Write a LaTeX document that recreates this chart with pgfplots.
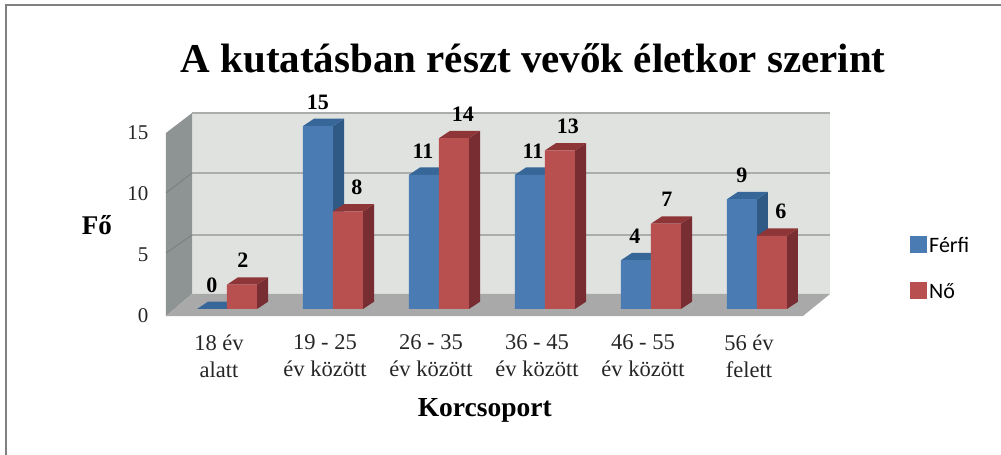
\documentclass[border=0pt]{standalone}
\usepackage{fontspec}
\setmainfont{Liberation Serif}
\newfontfamily\legendfont{Carlito}
\usepackage{pgfplots}
\usepackage{pgfplotstable}
\pgfplotsset{compat=1.18}

\definecolor{bluefront}{HTML}{4A7BB2}
\definecolor{blueside}{HTML}{2F5A85}
\definecolor{bluetop}{HTML}{376798}
\definecolor{redfront}{HTML}{B85050}
\definecolor{redside}{HTML}{772D31}
\definecolor{redtop}{HTML}{8E3537}
\definecolor{wallback}{HTML}{E0E2E0}
\definecolor{wallleft}{HTML}{8E9394}
\definecolor{floorgrey}{HTML}{A9A9A9}
\definecolor{gridgrey}{HTML}{ABADAD}

% x, value, label xshift (pt)
\pgfplotstableread{
x v lab
0 0 -15
1 15 -15
2 11 -16
3 11 -12
4 4 -16
5 9 -15
}\ferfi
\pgfplotstableread{
x v lab
0 2 16
1 8 24
2 14 24
3 13 23
4 7 16
5 6 24
}\no

% depth faces of one bar: left edge, value, side colour, top colour
\newcommand{\depth}[4]{%
  \pgfmathsetmacro{\xa}{#1}%
  \pgfmathsetmacro{\xb}{#1+0.283}%
  \pgfmathsetmacro{\xc}{#1+0.283+0.104}%
  \pgfmathsetmacro{\xd}{#1+0.104}%
  \pgfmathsetmacro{\yb}{#2+0.6}%
  \edef\tmpplot{%
    \noexpand\addplot[forget plot,fill=#3,draw=none] coordinates
      {(\xb,0) (\xc,0.6) (\xc,\yb) (\xb,#2)};
    \noexpand\addplot[forget plot,fill=#4,draw=none] coordinates
      {(\xa,#2) (\xd,\yb) (\xc,\yb) (\xb,#2)};
  }\tmpplot
}

\pgfplotsset{labelled/.style={
  ybar,
  nodes near coords,
  point meta=y,
  visualization depends on={\thisrow{lab}\as\labx},
  every node near coord/.style={anchor=center,xshift=\labx pt,yshift=24pt,
    color=black,font=\bfseries\fontsize{22}{22}\selectfont},
}}

\begin{document}
\begin{tikzpicture}
\path[use as bounding box] (-166pt,-139pt) rectangle (835pt,316pt);
\draw[color=gray,line width=2pt] (-160pt,-139pt) -- (-160pt,311pt) -- (835pt,311pt);
\begin{axis}[
  scale only axis,
  width=664pt,
  height=203pt,
  xmin=-0.5755, xmax=5.689,
  ymin=-0.574, ymax=16.066,
  clip=false,
  axis line style={draw=none},
  major tick length=0pt,
  ytick={0,5,10,15},
  xtick={0,1,2,3,4,5},
  xticklabels={18 év\\alatt,19 - 25\\év között,26 - 35\\év között,36 - 45\\év között,46 - 55\\év között,56 év\\felett},
  x tick label style={align=center,font=\fontsize{22.5}{27}\selectfont,xshift=-8pt,yshift=-15pt,color=black!85},
  y tick label style={font=\fontsize{21}{21}\selectfont,xshift=-14pt,yshift=-6.5pt,color=black!85},
  /pgf/number format/assume math mode=true,
  title={A kutatásban részt vevők életkor szerint},
  title style={at={(axis description cs:0.553,1.24)},anchor=center,font=\bfseries\fontsize{41}{41}\selectfont},
  xlabel={Korcsoport},
  xlabel style={at={(axis description cs:0.48,-0.463)},anchor=center,font=\bfseries\fontsize{27.5}{27.5}\selectfont},
  ylabel={Fő},
  ylabel style={at={(axis description cs:-0.104,0.448)},anchor=center,rotate=-90,font=\bfseries\fontsize{27}{27}\selectfont},
  bar width=0.283,
  legend style={at={(axis cs:6.444,6.07)},anchor=north west,draw=none,fill=none,
    font=\legendfont\fontsize{22}{22}\selectfont,row sep=26pt,inner sep=0pt},
  legend cell align=left,
  legend image code/.code={\fill[#1] (0pt,-7pt) rectangle (17pt,10pt);},
]
% walls and floor
\addplot[forget plot,fill=wallback,draw=none] coordinates
  {(-0.33,1.23) (-0.33,16.066) (5.689,16.066) (5.689,1.23)};
\addplot[forget plot,fill=wallleft,draw=none] coordinates
  {(-0.5755,-0.574) (-0.33,1.23) (-0.33,16.066) (-0.5755,14.43)};
\addplot[forget plot,fill=floorgrey,draw=none] coordinates
  {(-0.5755,-0.574) (-0.33,1.23) (5.689,1.23) (5.434,-0.574)};
% gridlines
\addplot[forget plot,color=gridgrey,line width=1.6pt] coordinates {(-0.33,16.066) (5.689,16.066)};
\addplot[forget plot,color=gridgrey,line width=1.6pt] coordinates {(-0.33,11.15) (5.689,11.15)};
\addplot[forget plot,color=gridgrey,line width=1.6pt] coordinates {(-0.33,6.07) (5.689,6.07)};
\addplot[forget plot,color=wallleft!85!black,line width=0.8pt] coordinates {(-0.5755,9.51) (-0.33,11.15)};
\addplot[forget plot,color=wallleft!85!black,line width=0.8pt] coordinates {(-0.5755,4.59) (-0.33,6.07)};
% Férfi
\depth{-0.283}{0}{blueside}{bluetop}
\depth{0.717}{15}{blueside}{bluetop}
\depth{1.717}{11}{blueside}{bluetop}
\depth{2.717}{11}{blueside}{bluetop}
\depth{3.717}{4}{blueside}{bluetop}
\depth{4.717}{9}{blueside}{bluetop}
\addplot[labelled,bar shift=-0.1415,fill=bluefront,draw=none] table[x=x,y=v] {\ferfi};
\addlegendentry{Férfi}
% Nő
\depth{0}{2}{redside}{redtop}
\depth{1}{8}{redside}{redtop}
\depth{2}{14}{redside}{redtop}
\depth{3}{13}{redside}{redtop}
\depth{4}{7}{redside}{redtop}
\depth{5}{6}{redside}{redtop}
\addplot[labelled,bar shift=0.1415,fill=redfront,draw=none] table[x=x,y=v] {\no};
\addlegendentry{Nő}
\end{axis}
\end{tikzpicture}
\end{document}
